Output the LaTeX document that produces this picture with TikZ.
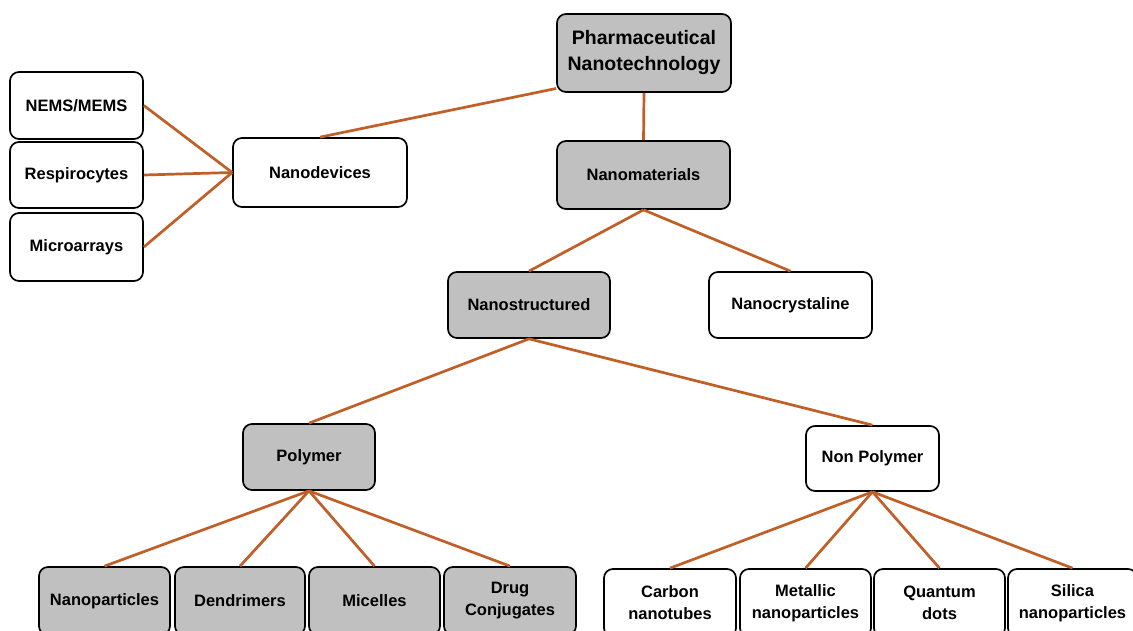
\documentclass[tikz,border=0pt]{standalone}
\usepackage{fontspec}
\setmainfont{Liberation Sans}
\begin{document}
\begin{tikzpicture}[x=1pt,y=-1pt,
  box/.style={draw=black, line width=1.7pt, rounded corners=9pt, align=center,
    font=\bfseries\fontsize{16.5}{22}\selectfont, inner sep=0pt, text=black},
  gbox/.style={box, fill=boxgray},
  wbox/.style={box, fill=white},
  link/.style={draw=linkc, line width=2.7pt}]
\definecolor{boxgray}{RGB}{192,192,192}
\definecolor{linkc}{RGB}{192,96,40}
\useasboundingbox (0,0) rectangle (1133,631);
\clip (0,0) rectangle (1133,631);
\fill[white] (0,0) rectangle (1133,631);
% nodes
\node[gbox, minimum width=174pt, minimum height=78pt, font=\bfseries\fontsize{19.5}{26}\selectfont] (pharm) at (644,53) {Pharmaceutical\\Nanotechnology};
\node[gbox, minimum width=173pt, minimum height=68pt] (nanomat) at (643.5,175) {Nanomaterials};
\node[wbox, minimum width=174pt, minimum height=69pt] (nanodev) at (320,172.5) {Nanodevices};
\node[wbox, minimum width=133pt, minimum height=67pt] (nems) at (76.5,105.5) {NEMS/MEMS};
\node[wbox, minimum width=133pt, minimum height=66pt] (resp) at (76.5,175) {Respirocytes};
\node[wbox, minimum width=133pt, minimum height=68pt] (micro) at (76.5,247) {Microarrays};
\node[gbox, minimum width=162pt, minimum height=66pt] (nanostr) at (529,305) {Nanostructured};
\node[wbox, minimum width=163pt, minimum height=66pt] (nanocr) at (790.5,305) {Nanocrystaline};
\node[gbox, minimum width=132pt, minimum height=66pt] (polymer) at (309,457) {Polymer};
\node[wbox, minimum width=133pt, minimum height=65pt] (nonpoly) at (872.5,458.5) {Non Polymer};
\node[gbox, minimum width=131pt, minimum height=68pt] (np) at (104.5,601) {Nanoparticles};
\node[gbox, minimum width=130pt, minimum height=68pt] (dend) at (240,601) {Dendrimers};
\node[gbox, minimum width=131pt, minimum height=68pt] (mic) at (374.5,601) {Micelles};
\node[gbox, minimum width=132pt, minimum height=68pt] (drug) at (510,601) {Drug\\Conjugates};
\node[wbox, minimum width=132pt, minimum height=68pt] (carbon) at (670,603) {Carbon\\nanotubes};
\node[wbox, minimum width=131pt, minimum height=68pt] (metal) at (805.5,603) {Metallic\\nanoparticles};
\node[wbox, minimum width=131pt, minimum height=68pt] (quantum) at (939.5,603) {Quantum\\dots};
\node[wbox, minimum width=129pt, minimum height=68pt] (silica) at (1072.5,603) {Silica\\nanoparticles};
% links
\draw[link] (pharm.202) -- (nanodev.north);
\draw[link] (pharm.south) -- (nanomat.north);
\draw[link] (nems.east) -- (nanodev.west);
\draw[link] (resp.east) -- (nanodev.west);
\draw[link] (micro.east) -- (nanodev.west);
\draw[link] (nanomat.south) -- (nanostr.north);
\draw[link] (nanomat.south) -- (nanocr.north);
\draw[link] (nanostr.south) -- (polymer.north);
\draw[link] (nanostr.south) -- (nonpoly.north);
\draw[link] (polymer.south) -- (np.north);
\draw[link] (polymer.south) -- (dend.north);
\draw[link] (polymer.south) -- (mic.north);
\draw[link] (polymer.south) -- (drug.north);
\draw[link] (nonpoly.south) -- (carbon.north);
\draw[link] (nonpoly.south) -- (metal.north);
\draw[link] (nonpoly.south) -- (quantum.north);
\draw[link] (nonpoly.south) -- (silica.north);
\end{tikzpicture}
\end{document}
